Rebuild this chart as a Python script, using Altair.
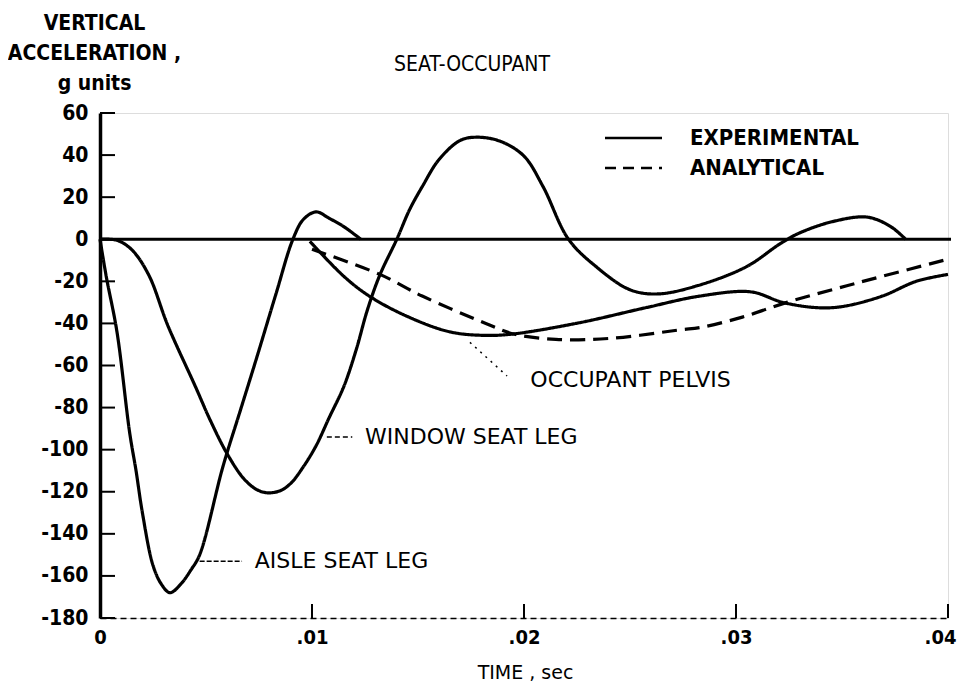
import altair as alt
import pandas as pd

# ---------------- data ----------------
x_ticks = [0, 0.01, 0.02, 0.03, 0.04]
x_tick_labels = ["0", ".01", ".02", ".03", ".04"]
y_ticks = [60, 40, 20, 0, -20, -40, -60, -80, -100, -120, -140, -160, -180]

aisle_t = [0, 0.0003, 0.0008, 0.0014, 0.0017, 0.0020, 0.0025, 0.0029, 0.0033,
           0.0038, 0.0043, 0.0047, 0.0058, 0.0066, 0.0074, 0.0083, 0.0091,
           0.0096, 0.0102, 0.0108, 0.0115, 0.0123]
aisle_g = [0, -18, -44, -92, -110, -130, -155, -164, -168,
           -164, -157, -150, -108, -82, -56, -26, 0,
           9.5, 13, 10, 6, 0]

window_t = [0, 0.0008, 0.0015, 0.0023, 0.0032, 0.0045, 0.0052, 0.0060, 0.0068,
            0.0074, 0.0079, 0.0085, 0.0090, 0.0096, 0.0102, 0.0108, 0.0115,
            0.0121, 0.0126, 0.0132, 0.0140, 0.0146, 0.0152, 0.0160, 0.0170,
            0.0178, 0.0189, 0.0200, 0.0209, 0.0221, 0.0234, 0.0250, 0.0263,
            0.0282, 0.0305, 0.0321, 0.0330, 0.0346, 0.0362, 0.0373, 0.0380]
window_g = [0, -0.5, -5, -17, -41, -70, -86, -102, -114,
            -119, -120.5, -119.5, -116, -108, -98, -85, -70,
            -52, -34, -17, 0, 14, 25, 38, 47,
            48.5, 46.5, 39.5, 25, 0, -13, -24, -26,
            -22, -13, -2, 3, 8.5, 10.5, 6, 0]

pelvis_exp_t = [0.0099, 0.0115, 0.0127, 0.0145, 0.0165, 0.0182, 0.0195, 0.0226,
                0.0258, 0.0283, 0.0307, 0.0322, 0.0338, 0.0350, 0.0369, 0.0385, 0.0400]
pelvis_exp_g = [-1, -17.6, -27, -36.7, -44, -45.7, -45, -39.7,
                -32.4, -27, -25, -30, -32.5, -32, -27, -20, -16.7]

pelvis_ana_t = [0.0100, 0.0132, 0.0152, 0.0182, 0.0195, 0.0215, 0.0242, 0.0274,
                0.0283, 0.0303, 0.0324, 0.0346, 0.0369, 0.0400]
pelvis_ana_g = [-4.8, -16.7, -27, -40, -45, -47.6, -47, -43,
                -42, -37, -30, -23.8, -17.6, -9.5]

legend_labels = ["EXPERIMENTAL", "ANALYTICAL"]
chart_title = "SEAT-OCCUPANT"
y_title = ["VERTICAL", "ACCELERATION ,", "g units"]
x_title = "TIME , sec"

# annotations: label, text anchor (t, g), leader start, leader end
ann_labels = ["WINDOW SEAT LEG", "AISLE SEAT LEG", "OCCUPANT PELVIS"]
ann_t = [0.0125, 0.0073, 0.0203]
ann_g = [-94, -153, -67]
lead_t1 = [0.0107, 0.0047, 0.01745]
lead_g1 = [-94, -153, -49]
lead_t2 = [0.0119, 0.0067, 0.0192]
lead_g2 = [-94, -153, -65]
lead_dash = [[5, 3], [5, 2], [2, 5]]

# ---------------- build ----------------
W, H = 848, 505
FONT_B = "DejaVu Sans Condensed, DejaVu Sans, sans-serif"
FONT_N = "DejaVu Sans, sans-serif"

rows = []
for name, kind, ts, gs in [
    ("aisle", "EXPERIMENTAL", aisle_t, aisle_g),
    ("window", "EXPERIMENTAL", window_t, window_g),
    ("pelvis_exp", "EXPERIMENTAL", pelvis_exp_t, pelvis_exp_g),
    ("pelvis_ana", "ANALYTICAL", pelvis_ana_t, pelvis_ana_g),
]:
    for t, g in zip(ts, gs):
        rows.append({"t": t, "g": g, "curve": name, "kind": kind})
df = pd.DataFrame(rows)

xscale = alt.Scale(domain=[0, 0.04], nice=False, zero=False)
yscale = alt.Scale(domain=[-180, 60], nice=False, zero=False)

label_expr = "[" + ",".join("'%s'" % s for s in x_tick_labels) + "][round(datum.value*100)]"

x_axis = alt.Axis(values=x_ticks, labelExpr=label_expr, tickSize=0, labelPadding=9,
                  labelFlush=False,
                  labelOffset={"condition": {"test": "datum.value >= 0.039", "value": -8},
                               "value": 0},
                  grid=False, domainColor="black", domainWidth=1.5,
                  domainDash=[6, 4], labelFont=FONT_B, labelFontSize=20,
                  labelFontWeight="bold", labelColor="black",
                  title=x_title, titleX=425, titleY=54, titleBaseline="middle",
                  titleFont=FONT_N, titleFontSize=19, titleFontWeight="normal",
                  titleColor="black")
y_axis = alt.Axis(values=y_ticks, labelExpr="'' + datum.value", tickSize=0,
                  labelPadding=12, grid=False, domainColor="black", domainWidth=3.5,
                  labelFont=FONT_B, labelFontSize=21, labelFontWeight="bold",
                  labelColor="black",
                  title=y_title, titleAngle=0, titleX=-6, titleY=-90,
                  titleAlign="center", titleBaseline="middle", titleLineHeight=30,
                  titleFont=FONT_B, titleFontSize=21, titleFontWeight="bold",
                  titleColor="black")

lines = alt.Chart(df).mark_line(color="black", strokeWidth=3.2,
                                interpolate="catmull-rom").encode(
    x=alt.X("t:Q", scale=xscale, axis=x_axis),
    y=alt.Y("g:Q", scale=yscale, axis=y_axis),
    detail="curve:N",
    strokeDash=alt.StrokeDash("kind:N", scale=alt.Scale(
        domain=legend_labels, range=[[1, 0], [15, 8]]), legend=None),
)

zero_line = alt.Chart(pd.DataFrame({"g": [0]})).mark_rule(
    color="black", strokeWidth=3).encode(
    y=alt.Y("g:Q", scale=yscale), x=alt.value(0), x2=alt.value(W + 3))

yt = alt.Chart(pd.DataFrame({"v": y_ticks})).mark_rule(
    color="black", strokeWidth=2).encode(
    y=alt.Y("v:Q", scale=yscale), x=alt.value(0), x2=alt.value(15))

xt = alt.Chart(pd.DataFrame({"v": x_ticks[1:]})).mark_rule(
    color="black", strokeWidth=2).encode(
    x=alt.X("v:Q", scale=xscale), y=alt.value(H), y2=alt.value(H - 14))

layers = [lines, zero_line, yt, xt]

# legend
for i, lab in enumerate(legend_labels):
    yy = 25 + 30 * i
    dash = [1, 0] if i == 0 else [11, 7]
    layers.append(alt.Chart(pd.DataFrame({"l": [lab]})).mark_rule(
        color="black", strokeWidth=2.5, strokeDash=dash).encode(
        x=alt.value(505), x2=alt.value(562), y=alt.value(yy)))
    layers.append(alt.Chart(pd.DataFrame({"l": [lab]})).mark_text(
        align="left", baseline="middle", font=FONT_B, fontSize=22,
        fontWeight="bold", color="black").encode(
        x=alt.value(590), y=alt.value(yy), text="l:N"))

# title
layers.append(alt.Chart(pd.DataFrame({"l": [chart_title]})).mark_text(
    align="center", baseline="middle", font=FONT_B, fontSize=21,
    color="black").encode(x=alt.value(372), y=alt.value(-48), text="l:N"))

# annotations
ann = pd.DataFrame({"label": ann_labels, "t": ann_t, "g": ann_g})
layers.append(alt.Chart(ann).mark_text(
    align="left", baseline="middle", font=FONT_N, fontSize=22,
    color="black").encode(
    x=alt.X("t:Q", scale=xscale), y=alt.Y("g:Q", scale=yscale), text="label:N"))
for i in range(len(ann_labels)):
    seg = pd.DataFrame({"t1": [lead_t1[i]], "g1": [lead_g1[i]],
                        "t2": [lead_t2[i]], "g2": [lead_g2[i]]})
    layers.append(alt.Chart(seg).mark_rule(
        color="black", strokeWidth=1.5, strokeDash=lead_dash[i]).encode(
        x=alt.X("t1:Q", scale=xscale), x2="t2:Q",
        y=alt.Y("g1:Q", scale=yscale), y2="g2:Q"))

chart = alt.layer(*layers).properties(
    width=W, height=H,
    autosize=alt.AutoSizeParams(type="none"),
    padding={"left": 92, "top": 105, "right": 9, "bottom": 64},
).configure_view(stroke=None).configure(background="white")

chart.save("out.html", embed_options={"renderer": "svg", "actions": False})
